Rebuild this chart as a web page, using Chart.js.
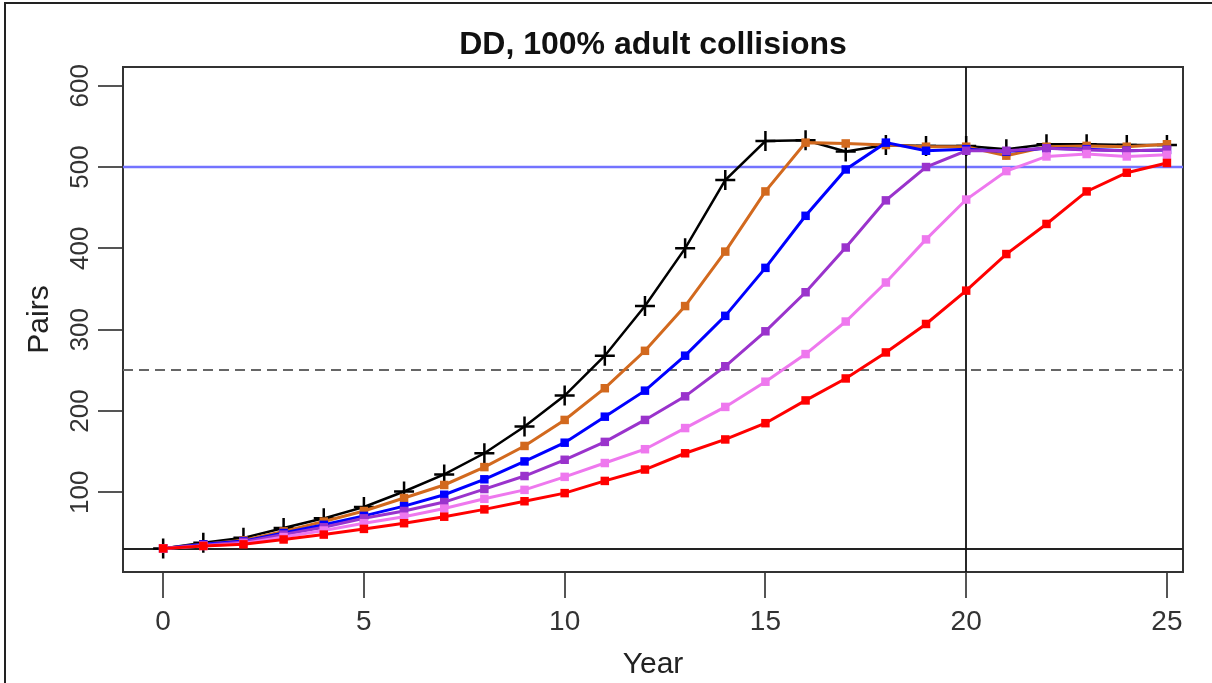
<!DOCTYPE html>
<html>
<head>
<meta charset="utf-8">
<title>DD, 100% adult collisions</title>
<script src="https://cdn.jsdelivr.net/npm/chart.js@4/dist/chart.umd.min.js"></script>
<style>
  html, body { margin: 0; padding: 0; background: #fff; overflow: hidden; }
  #wrap { position: relative; width: 1212px; height: 683px; }
  #frame {
    position: absolute; left: 4px; top: 2px; right: -10px; bottom: -10px;
    border-top: 2px solid #222; border-left: 2px solid #222; pointer-events: none;
  }
</style>
</head>
<body>
<div id="wrap">
  <canvas id="chart" width="1212" height="683"></canvas>
  <div id="frame"></div>
</div>
<script>
// years simulated
const years = [0, 1, 2, 3, 4, 5, 6, 7, 8, 9, 10, 11, 12, 13, 14, 15, 16, 17, 18, 19, 20, 21, 22, 23, 24, 25];

// pairs per scenario
const blackPairs = [31, 38, 44, 56, 68, 82, 101, 122, 148, 181, 219, 268, 329, 400, 484, 532, 533, 519, 527, 526, 526, 522, 528, 528, 527, 527];
const orangePairs = [31, 36, 41, 52, 64, 77, 93, 109, 131, 157, 189, 228, 274, 329, 396, 470, 530, 529, 527, 525, 525, 514, 525, 526, 525, 528];
const bluePairs = [31, 36, 40, 50, 60, 71, 83, 97, 116, 138, 161, 193, 225, 268, 317, 376, 440, 497, 530, 520, 522, 519, 523, 522, 520, 521];
const purplePairs = [31, 35, 39, 48, 57, 68, 77, 88, 104, 120, 140, 162, 189, 218, 255, 298, 346, 401, 459, 500, 520, 520, 523, 521, 520, 521];
const violetPairs = [31, 34, 37, 45, 53, 62, 70, 80, 92, 103, 119, 136, 153, 179, 205, 236, 270, 310, 358, 411, 460, 495, 513, 516, 513, 515];
const redPairs = [31, 34, 36, 42, 48, 55, 62, 70, 79, 89, 99, 114, 128, 148, 165, 185, 213, 240, 272, 307, 348, 393, 430, 470, 493, 505];

const xTicks = [0, 5, 10, 15, 20, 25];
const yTicks = [100, 200, 300, 400, 500, 600];

// reference lines
const targetPairs = 500;
const halfTargetPairs = 250;
const startPairs = 30;
const markYear = 20;

const X_MIN = -1;
const X_MAX = 25.4;
const Y_MIN = 2;
const Y_MAX = 623;

function toPoints(values) {
  return years.map((yr, i) => ({ x: yr, y: values[i] }));
}

function squareSeries(values, color) {
  return {
    data: toPoints(values),
    borderColor: color,
    backgroundColor: color,
    borderWidth: 3,
    pointStyle: 'rect',
    pointRadius: 6,
    pointBorderWidth: 0,
    pointBackgroundColor: color,
  };
}

// red drawn on top, black at the bottom
const datasets = [
  squareSeries(redPairs, '#ff0000'),
  squareSeries(violetPairs, '#ee78ee'),
  squareSeries(purplePairs, '#9a33cc'),
  squareSeries(bluePairs, '#0000ff'),
  squareSeries(orangePairs, '#d2691e'),
  {
    data: toPoints(blackPairs),
    borderColor: '#000',
    backgroundColor: '#000',
    borderWidth: 2.5,
    pointStyle: 'cross',
    pointRadius: 10,
    pointBorderWidth: 2.5,
  },
];

const refLines = {
  id: 'refLines',
  beforeDatasetsDraw(chart) {
    const { ctx, chartArea: a, scales } = chart;
    const x = scales.x;
    const y = scales.y;
    ctx.save();
    ctx.beginPath();
    ctx.rect(a.left, a.top, a.right - a.left, a.bottom - a.top);
    ctx.clip();

    const hline = (v, color, dash, w) => {
      const py = Math.round(y.getPixelForValue(v));
      ctx.beginPath();
      ctx.setLineDash(dash);
      ctx.strokeStyle = color;
      ctx.lineWidth = w;
      ctx.moveTo(a.left, py);
      ctx.lineTo(a.right, py);
      ctx.stroke();
    };
    hline(targetPairs, '#7373ff', [], 2.5);
    hline(halfTargetPairs, '#666', [10, 6], 2);
    hline(startPairs, '#222', [], 2);

    const px = Math.round(x.getPixelForValue(markYear));
    ctx.beginPath();
    ctx.setLineDash([]);
    ctx.strokeStyle = '#111';
    ctx.lineWidth = 1.8;
    ctx.moveTo(px, a.top);
    ctx.lineTo(px, a.bottom);
    ctx.stroke();
    ctx.restore();
  },
};

const fontFamily = '"Liberation Sans", Arial, sans-serif';

const canvas = document.querySelector('#chart');
// eslint-disable-next-line no-undef
new Chart(canvas.getContext('2d'), {
  type: 'line',
  data: { datasets },
  plugins: [refLines],
  options: {
    responsive: false,
    animation: false,
    devicePixelRatio: 1,
    layout: { padding: 0 },
    elements: { line: { tension: 0 } },
    plugins: {
      legend: { display: false },
      tooltip: { enabled: false },
      title: { display: false },
    },
    scales: {
      x: {
        type: 'linear',
        position: 'bottom',
        min: X_MIN,
        max: X_MAX,
        afterBuildTicks: (scale) => {
          scale.ticks = xTicks.map((v) => ({ value: v }));
        },
        afterFit: (scale) => {
          scale.height = 111;
        },
        ticks: {
          autoSkip: false,
          maxRotation: 0,
          padding: 7,
          color: '#333',
          font: { family: fontFamily, size: 28 },
        },
        grid: {
          drawOnChartArea: false,
          drawTicks: true,
          tickLength: 26,
          color: '#555',
          lineWidth: 2,
        },
        border: { display: true, color: '#333', width: 2 },
        title: {
          display: true,
          text: 'Year',
          color: '#222',
          font: { family: fontFamily, size: 30 },
          padding: { top: 0, bottom: 0 },
        },
      },
      y: {
        type: 'linear',
        position: 'left',
        min: Y_MIN,
        max: Y_MAX,
        afterBuildTicks: (scale) => {
          scale.ticks = yTicks.map((v) => ({ value: v }));
        },
        afterFit: (scale) => {
          scale.width = 123;
        },
        ticks: {
          minRotation: 90,
          maxRotation: 90,
          crossAlign: 'center',
          padding: -5,
          color: '#333',
          font: { family: fontFamily, size: 26 },
        },
        grid: {
          drawOnChartArea: false,
          drawTicks: true,
          tickLength: 25,
          color: '#555',
          lineWidth: 2,
        },
        border: { display: true, color: '#333', width: 2 },
        title: {
          display: true,
          text: 'Pairs',
          color: '#222',
          font: { family: fontFamily, size: 30 },
          padding: { top: 22, bottom: 0 },
        },
      },
      xTop: {
        type: 'linear',
        position: 'top',
        display: true,
        min: X_MIN,
        max: X_MAX,
        afterFit: (scale) => {
          scale.height = 67;
        },
        ticks: { display: false },
        grid: { display: false },
        border: { display: true, color: '#333', width: 2 },
        title: {
          display: true,
          text: 'DD, 100% adult collisions',
          color: '#111',
          font: { family: fontFamily, size: 32, weight: 'bold' },
          padding: { top: 26, bottom: 0 },
        },
      },
      yRight: {
        type: 'linear',
        position: 'right',
        display: true,
        min: Y_MIN,
        max: Y_MAX,
        afterFit: (scale) => {
          scale.width = 29;
        },
        ticks: { display: false },
        grid: { display: false },
        border: { display: true, color: '#333', width: 2 },
      },
    },
  },
});
</script>
</body>
</html>
